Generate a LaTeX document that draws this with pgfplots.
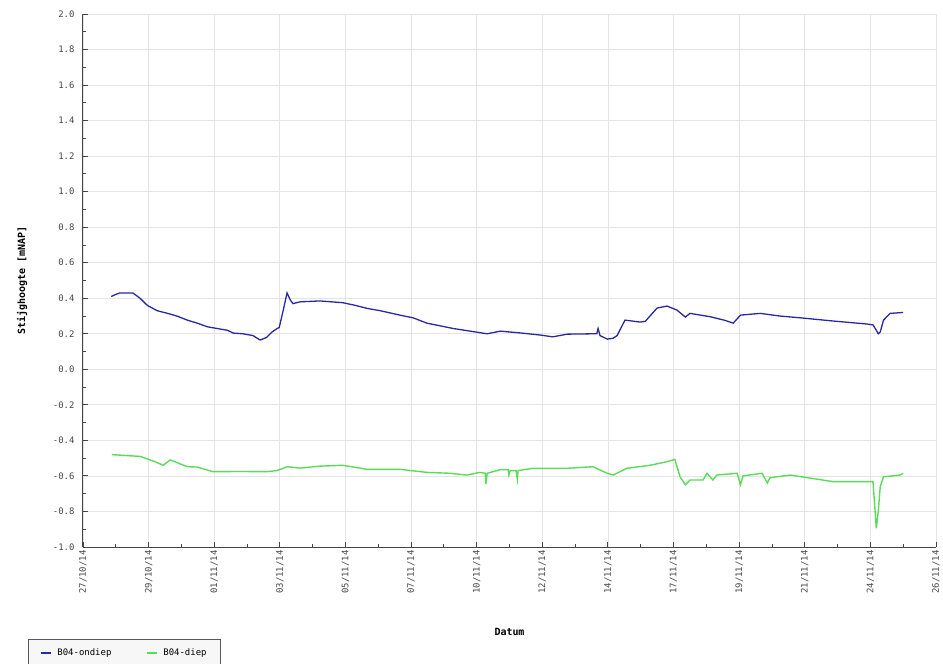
\documentclass[border=0pt]{standalone}
\usepackage{fontspec}
\setmainfont{DejaVu Sans Mono}
\usepackage{pgfplots}
\pgfplotsset{compat=1.18}
\definecolor{bl}{RGB}{40,40,160}
\definecolor{gr}{RGB}{90,220,90}
\definecolor{axc}{RGB}{70,70,70}
\definecolor{grd}{RGB}{228,228,228}
\begin{document}
\begin{tikzpicture}
\useasboundingbox (-83bp,-117bp) rectangle (860bp,547bp);
\begin{axis}[at={(0,0)}, anchor=south west,
  width=853bp, height=533bp, scale only axis,
  xmin=0, xmax=13, ymin=-1, ymax=2,
  axis x line*=bottom, axis y line*=left,
  xtick={0,1,2,3,4,5,6,7,8,9,10,11,12,13},
  xticklabels={27/10/14,29/10/14,01/11/14,03/11/14,05/11/14,07/11/14,10/11/14,12/11/14,14/11/14,17/11/14,19/11/14,21/11/14,24/11/14,26/11/14},
  ytick={-1,-0.8,-0.6,-0.4,-0.2,0,0.2,0.4,0.6,0.8,1,1.2,1.4,1.6,1.8,2},
  yticklabels={-1.0,-0.8,-0.6,-0.4,-0.2,0.0,0.2,0.4,0.6,0.8,1.0,1.2,1.4,1.6,1.8,2.0},
  minor x tick num=1, minor y tick num=1,
  tick align=inside, major tick length=5bp, minor tick length=3bp,
  grid=major, major grid style={draw=grd, line width=0.8bp},
  axis line style={draw=axc, line width=1bp},
  tick style={draw=axc, line width=0.9bp},
  ticklabel style={font=\fontsize{9}{10}\selectfont, text=axc},
  xticklabel style={rotate=90, anchor=east},
  yticklabel style={anchor=east, xshift=-5bp},
  xlabel={Datum}, ylabel={Stijghoogte [mNAP]},
  label style={font=\bfseries\fontsize{10}{12}\selectfont, text=black},
  xlabel style={at={(axis description cs:0.5,0)}, anchor=center, yshift=-85bp},
  ylabel style={at={(axis description cs:-0.0715,0.5)}, anchor=center},
  legend columns=2,
  legend style={at={(axis description cs:0,0)}, anchor=north west, xshift=-55bp, yshift=-92bp,
    fill=gray!6, draw=gray!70!black, line width=0.9bp, font=\fontsize{9}{11}\selectfont,
    inner xsep=12bp, inner ysep=7bp,
    /tikz/every odd column/.append style={column sep=3bp},
    /tikz/every even column/.append style={column sep=33bp}},
  legend image code/.code={\draw[#1, line width=2bp] (0bp,0bp) -- (10bp,0bp);},
]
\addplot[bl, line width=1.3bp] coordinates {
(0.43,0.41)(0.49,0.42)(0.56,0.43)(0.76,0.43)(0.87,0.40)(0.98,0.36)(1.13,0.33)
(1.28,0.316)(1.43,0.30)(1.59,0.277)(1.74,0.26)(1.89,0.24)(2.04,0.23)(2.20,0.22)
(2.29,0.204)(2.44,0.20)(2.59,0.19)(2.70,0.165)(2.80,0.18)(2.88,0.21)(2.96,0.23)
(2.99,0.235)(3.05,0.33)(3.11,0.43)(3.16,0.39)(3.20,0.37)(3.31,0.38)(3.61,0.385)
(3.96,0.375)(4.15,0.36)(4.33,0.343)(4.53,0.33)(4.83,0.305)(5.03,0.29)(5.24,0.26)
(5.44,0.245)(5.64,0.23)(5.90,0.215)(6.16,0.20)(6.36,0.215)(6.66,0.205)(6.97,0.193)
(7.16,0.183)(7.38,0.198)(7.77,0.20)(7.83,0.20)(7.85,0.23)(7.88,0.19)(7.99,0.17)
(8.08,0.175)(8.14,0.19)(8.26,0.277)(8.49,0.266)(8.57,0.27)(8.64,0.30)(8.75,0.345)
(8.90,0.356)(9.05,0.334)(9.18,0.294)(9.25,0.315)(9.56,0.296)(9.79,0.275)(9.91,0.26)
(10.02,0.305)(10.32,0.315)(10.62,0.30)(10.93,0.29)(11.43,0.272)(11.95,0.255)
(12.04,0.25)(12.09,0.22)(12.12,0.20)(12.15,0.21)(12.20,0.277)(12.30,0.315)(12.50,0.32)
};
\addlegendentry{B04-ondiep}
\addplot[gr, line width=1.4bp] coordinates {
(0.44,-0.48)(0.64,-0.485)(0.87,-0.49)(1.10,-0.52)(1.22,-0.54)(1.33,-0.51)(1.43,-0.525)
(1.59,-0.548)(1.74,-0.55)(1.98,-0.576)(2.39,-0.575)(2.80,-0.576)(2.96,-0.57)
(3.11,-0.548)(3.31,-0.556)(3.61,-0.545)(3.96,-0.54)(4.33,-0.563)(4.83,-0.563)
(5.24,-0.58)(5.59,-0.585)(5.85,-0.595)(6.05,-0.58)(6.13,-0.585)(6.14,-0.645)
(6.16,-0.585)(6.36,-0.565)(6.48,-0.565)(6.49,-0.595)(6.51,-0.57)(6.60,-0.57)
(6.62,-0.62)(6.63,-0.57)(6.86,-0.557)(7.38,-0.557)(7.77,-0.548)(7.99,-0.585)
(8.08,-0.595)(8.29,-0.557)(8.64,-0.54)(8.90,-0.52)(9.02,-0.507)(9.10,-0.605)
(9.18,-0.65)(9.25,-0.623)(9.45,-0.623)(9.51,-0.585)(9.60,-0.623)(9.66,-0.595)
(9.97,-0.585)(10.02,-0.65)(10.06,-0.60)(10.35,-0.585)(10.43,-0.64)(10.47,-0.61)
(10.78,-0.595)(11.43,-0.632)(12.04,-0.632)(12.09,-0.895)(12.12,-0.80)(12.15,-0.66)
(12.20,-0.605)(12.45,-0.595)(12.50,-0.585)
};
\addlegendentry{B04-diep}
\end{axis}
\end{tikzpicture}
\end{document}
